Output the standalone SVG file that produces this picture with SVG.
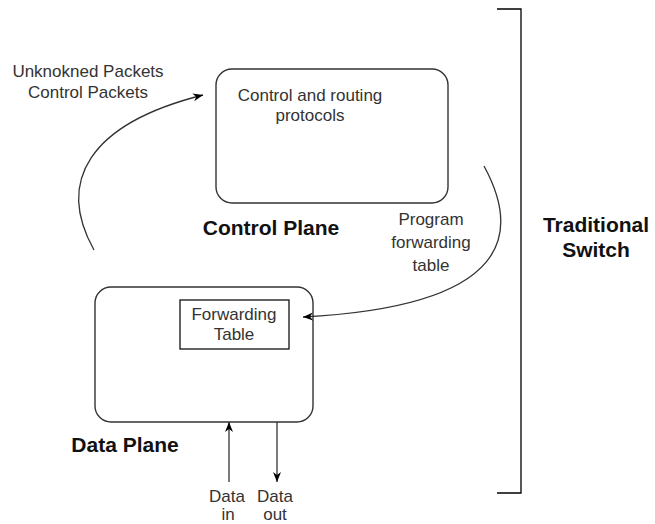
<svg xmlns="http://www.w3.org/2000/svg" width="655" height="524" viewBox="0 0 655 524">
<style>
.box{fill:#fff;stroke:#333;stroke-width:1.4}
.t{font-family:"Liberation Sans",Arial,sans-serif;font-size:17px;fill:#333;text-anchor:middle}
.b{font-family:"Liberation Sans",Arial,sans-serif;font-size:21px;font-weight:bold;fill:#111;text-anchor:middle}
.c{fill:none;stroke:#333;stroke-width:1.3}
</style>
<defs>
<marker id="ah" markerUnits="userSpaceOnUse" markerWidth="12" markerHeight="10" refX="10" refY="4" orient="auto" viewBox="0 0 12 8">
<path d="M0,0 L10,4 L0,8 L3,4 z" fill="#000"/>
</marker>
</defs>
<rect width="655" height="524" fill="#fff"/>
<g id="control-plane">
<rect class="box" x="216" y="69" width="232" height="134" rx="16"/>
<text class="t" x="310" y="101">Control and routing</text>
<text class="t" x="310" y="121">protocols</text>
<text class="b" x="271" y="235">Control Plane</text>
</g>
<g id="data-plane">
<rect class="box" x="95" y="287" width="218" height="135" rx="16"/>
<text class="b" x="125" y="452">Data Plane</text>
</g>
<g id="forwarding-table">
<rect x="180" y="300" width="109" height="49" fill="#fff" stroke="#111" stroke-width="1.3"/>
<text class="t" x="234" y="320">Forwarding</text>
<text class="t" x="234" y="340">Table</text>
</g>
<g id="traditional-switch">
<path d="M497,9 H521 V493 H497" fill="none" stroke="#000" stroke-width="1.3"/>
<text class="b" x="596" y="232">Traditional</text>
<text class="b" x="596" y="257">Switch</text>
</g>
<g id="connectors">
<path class="c" d="M94,250 C56,182 88,124 203,95" marker-end="url(#ah)"/>
<path class="c" d="M484,166 C520,232 514,306 303,317" marker-end="url(#ah)"/>
<path class="c" d="M229,482 V422" stroke="#000" marker-end="url(#ah)"/>
<path class="c" d="M277,422 V482" stroke="#000" marker-end="url(#ah)"/>
</g>
<g id="labels">
<text class="t" x="88" y="77">Unknokned Packets</text>
<text class="t" x="88" y="98">Control Packets</text>
<text class="t" x="431" y="225">Program</text>
<text class="t" x="431" y="248">forwarding</text>
<text class="t" x="431" y="271">table</text>
<text class="t" x="227" y="502">Data</text>
<text class="t" x="228" y="520">in</text>
<text class="t" x="275" y="502">Data</text>
<text class="t" x="275" y="520">out</text>
</g>
</svg>
